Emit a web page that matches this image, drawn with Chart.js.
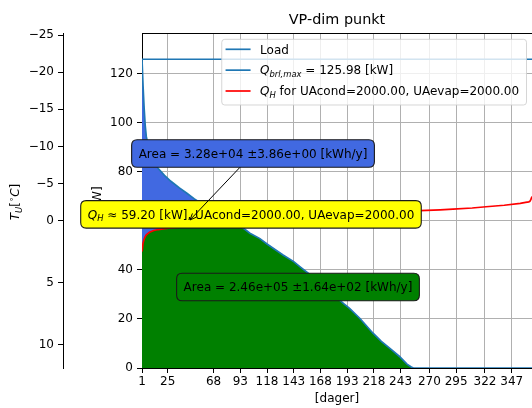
<!DOCTYPE html>
<html><head><meta charset="utf-8">
<script src="https://cdn.jsdelivr.net/npm/chart.js@4.4.0/dist/chart.umd.min.js"></script>
<style>html,body{margin:0;padding:0;background:#fff;overflow:hidden}#wrap{width:532px;height:408px;position:relative}</style>
</head><body><div id="wrap"><canvas id="c" width="532" height="408"></canvas></div>
<script>
// ---- data ----
const days  = [1, 2, 3, 4, 5, 8, 12, 16, 22, 28, 36, 43, 50, 60, 70, 80, 90, 96, 102, 111, 118, 133, 143, 149, 158, 170, 180, 190, 195, 205, 217, 225, 235, 242, 249, 253, 255, 261, 280, 292, 310, 323, 340, 355, 360, 363, 364, 365, 366];
const load  = [125.98, 115, 106, 99, 94.5, 88, 84.2, 81.5, 78.6, 76.2, 73.5, 71.3, 69.0, 66.2, 63.5, 61.0, 58.6, 57.0, 55.0, 52.9, 50.6, 46.1, 43.4, 41.3, 38.2, 33.6, 29.9, 26.2, 24.4, 20.2, 14.3, 10.9, 7.3, 4.7, 1.6, 0.4, 0, 0, 0, 0, 0, 0, 0, 0, 0, 0, 0, 0, 0];
const qH    = [47.5, 51.0, 52.6, 53.6, 54.3, 55.4, 56.1, 56.5, 56.9, 57.2, 57.5, 57.8, 58.1, 58.5, 58.8, 59.1, 59.4, 59.6, 59.8, 60.1, 60.3, 60.8, 61.1, 61.3, 61.6, 62.0, 62.3, 62.6, 62.7, 63.0, 63.3, 63.5, 63.7, 63.9, 64.0, 64.0, 64.1, 64.2, 64.5, 64.8, 65.3, 65.8, 66.4, 67.2, 67.6, 67.8, 68.0, 68.8, 70.0];
const qBrlMax = 125.98;
const xTicks = [1, 25, 68, 93, 118, 143, 168, 193, 218, 243, 270, 295, 322, 347];
const yTicks = [0, 20, 40, 60, 80, 100, 120];
const tempTicks = [-25, -20, -15, -10, -5, 0, 5, 10];
// outdoor temperature -> load position on the shared kW axis (piecewise)
const tempAxisQ0 = 60.1, tempSlopeCold = 3.03, tempSlopeWarm = 5.06;
function loadOfTemp(t){ return t <= 0 ? tempAxisQ0 - tempSlopeCold*t : tempAxisQ0 - tempSlopeWarm*t; }

const titleText = 'VP-dim punkt';
const xLabel = '[dager]';
const yLabel = '[kW]';
const uaText = 'UAcond=2000.00, UAevap=2000.00';
const qHdim = '59.20';
const areaBlueText = 'Area = 3.28e+04 \u00b13.86e+00 [kWh/y]';
const areaGreenText = 'Area = 2.46e+05 \u00b11.64e+02 [kWh/y]';
// annotation anchor points (data coords: day, kW)
const blueBoxAt = [104.9, 87.5];
const yellowBoxAt = [103.0, 62.7];
const greenBoxAt = [147.0, 33.05];
const arrowTo = [45.9, 60.4];

const FF = '"DejaVu Sans", sans-serif';
const FS = 12;
const pts = arr => days.map((d, i) => ({x: d, y: arr[i]}));

function segW(ctx, s, size){
  const sz = s.s ? size*0.7 : size;
  ctx.font = (s.i ? 'italic ' : '') + sz + 'px ' + FF;
  return ctx.measureText(s.t).width;
}
function richWidth(ctx, segs, size){ return segs.reduce((a, s) => a + segW(ctx, s, size), 0); }
function drawRich(ctx, segs, x, y, size, align, color){
  const w = richWidth(ctx, segs, size);
  let cx = align === 'center' ? x - w/2 : (align === 'right' ? x - w : x);
  const base = y + 0.36*size;
  ctx.fillStyle = color || '#000';
  ctx.textBaseline = 'alphabetic'; ctx.textAlign = 'left';
  for (const s of segs){
    const sz = s.s ? size*0.7 : size;
    ctx.font = (s.i ? 'italic ' : '') + sz + 'px ' + FF;
    let dy = 0;
    if (s.s === 'sub') dy = 0.22*size;
    if (s.s === 'sup') dy = -0.42*size;
    ctx.fillText(s.t, cx, base + dy);
    cx += ctx.measureText(s.t).width;
  }
  return w;
}
function rrect(ctx, x, y, w, h, r){
  ctx.beginPath();
  ctx.moveTo(x+r, y); ctx.lineTo(x+w-r, y); ctx.quadraticCurveTo(x+w, y, x+w, y+r);
  ctx.lineTo(x+w, y+h-r); ctx.quadraticCurveTo(x+w, y+h, x+w-r, y+h);
  ctx.lineTo(x+r, y+h); ctx.quadraticCurveTo(x, y+h, x, y+h-r);
  ctx.lineTo(x, y+r); ctx.quadraticCurveTo(x, y, x+r, y); ctx.closePath();
}
function textBox(ctx, segs, cx, cy, fill){
  const w = richWidth(ctx, segs, FS) + 14, h = 27.5;
  const x = cx - w/2, y = cy - h/2;
  rrect(ctx, x, y, w, h, 5.5);
  ctx.fillStyle = fill; ctx.fill();
  ctx.lineWidth = 1.1; ctx.strokeStyle = '#1a1a1a'; ctx.stroke();
  drawRich(ctx, segs, cx, cy, FS, 'center', '#000');
  return {x, y, w, h};
}

const deco = {
  id: 'deco',
  afterDraw(chart){
    const ctx = chart.ctx, a = chart.chartArea, xs = chart.scales.x, ys = chart.scales.y;
    ctx.save();
    // top spine
    ctx.strokeStyle = '#000'; ctx.lineWidth = 1;
    ctx.beginPath(); ctx.moveTo(a.left, Math.round(a.top)+0.5); ctx.lineTo(a.right, Math.round(a.top)+0.5); ctx.stroke();
    // title and axis labels
    ctx.fillStyle = '#000'; ctx.textAlign = 'center'; ctx.textBaseline = 'middle';
    ctx.font = '14.4px ' + FF;
    ctx.fillText(titleText, (a.left + a.right)/2, 20);
    ctx.font = FS + 'px ' + FF;
    ctx.fillText(xLabel, (a.left + a.right)/2, 399);
    ctx.save(); ctx.translate(98, (a.top + a.bottom)/2); ctx.rotate(-Math.PI/2);
    ctx.fillText(yLabel, 0, 0); ctx.restore();
    ctx.save(); ctx.translate(15, (a.top + a.bottom)/2 + 1.5); ctx.rotate(-Math.PI/2);
    drawRich(ctx, [{t:'T', i:1}, {t:'U', i:1, s:'sub'}, {t:'['}, {t:'\u2218', s:'sup'}, {t:'C', i:1}, {t:']'}], 0, 0, FS, 'center');
    ctx.restore();

    // annotation boxes
    textBox(ctx, [{t:'Q', i:1}, {t:'H', i:1, s:'sub'}, {t:' \u2248 ' + qHdim + ' [kW], ' + uaText}],
      xs.getPixelForValue(yellowBoxAt[0]), ys.getPixelForValue(yellowBoxAt[1]), '#ffff00');
    textBox(ctx, [{t: areaGreenText}], xs.getPixelForValue(greenBoxAt[0]), ys.getPixelForValue(greenBoxAt[1]), '#008000');
    const bcx = xs.getPixelForValue(blueBoxAt[0]), bcy = ys.getPixelForValue(blueBoxAt[1]);
    const bb = textBox(ctx, [{t: areaBlueText}], bcx, bcy, '#4169e1');
    // arrow from blue box to point
    const tx = xs.getPixelForValue(arrowTo[0]), ty = ys.getPixelForValue(arrowTo[1]);
    const dx = tx - bcx, dy = ty - bcy;
    const tEdge = Math.min(Math.abs((bb.h/2)/dy), Math.abs((bb.w/2)/dx));
    const sx = bcx + dx*tEdge, sy = bcy + dy*tEdge;
    ctx.strokeStyle = '#000'; ctx.lineWidth = 1;
    ctx.beginPath(); ctx.moveTo(sx, sy); ctx.lineTo(tx, ty); ctx.stroke();
    const ang = Math.atan2(ty - sy, tx - sx), hl = 7;
    ctx.beginPath();
    ctx.moveTo(tx - hl*Math.cos(ang - 0.4), ty - hl*Math.sin(ang - 0.4));
    ctx.lineTo(tx, ty);
    ctx.lineTo(tx - hl*Math.cos(ang + 0.4), ty - hl*Math.sin(ang + 0.4));
    ctx.stroke();

    // legend
    const items = [
      {c:'#1f77b4', segs:[{t:'Load'}]},
      {c:'#1f77b4', segs:[{t:'Q', i:1}, {t:'brl,max', i:1, s:'sub'}, {t:' = ' + qBrlMax.toFixed(2) + ' [kW]'}]},
      {c:'#ff0000', segs:[{t:'Q', i:1}, {t:'H', i:1, s:'sub'}, {t:' for ' + uaText}]}
    ];
    const tw = Math.max(...items.map(it => richWidth(ctx, it.segs, FS)));
    const lr = a.right - 5.5, lt = a.top + 6.3;
    const lw = tw + 38.3 + 7.4, lh = 65.7;
    const ll = lr - lw;
    rrect(ctx, ll, lt, lw, lh, 3);
    ctx.fillStyle = 'rgba(255,255,255,0.8)'; ctx.fill();
    ctx.strokeStyle = 'rgba(204,204,204,0.8)'; ctx.lineWidth = 1; ctx.stroke();
    items.forEach((it, k) => {
      const yy = lt + 10 + k*20.85;
      ctx.strokeStyle = it.c; ctx.lineWidth = 1.7;
      ctx.beginPath(); ctx.moveTo(ll + 3.8, yy); ctx.lineTo(ll + 28.8, yy); ctx.stroke();
      drawRich(ctx, it.segs, ll + 38.3, yy, FS, 'left', '#000');
    });
    ctx.restore();
  }
};

const tickFont = {family: FF, size: FS};
new Chart(document.getElementById('c'), {
  type: 'line',
  data: {
    datasets: [
      {data: [{x: 1, y: qBrlMax}, {x: 366, y: qBrlMax}], borderColor: '#1f77b4', borderWidth: 1.7, pointRadius: 0, fill: false, order: 0},
      {data: pts(qH), borderColor: '#ff0000', borderWidth: 1.7, pointRadius: 0, fill: false, order: 1},
      {data: pts(load), borderColor: '#1f77b4', borderWidth: 1.7, pointRadius: 0,
        fill: {target: 1, above: '#4169e1', below: 'rgba(0,0,0,0)'}, order: 2},
      {data: pts(load), borderColor: 'rgba(0,0,0,0)', borderWidth: 0, pointRadius: 0,
        fill: {target: 'origin', above: '#008000', below: '#008000'}, order: 3}
    ]
  },
  options: {
    responsive: false, animation: false, devicePixelRatio: 1,
    layout: {padding: {top: 33, right: 0, bottom: 0, left: 0}},
    plugins: {legend: {display: false}, title: {display: false}, tooltip: {enabled: false}},
    elements: {line: {tension: 0}},
    scales: {
      x: {type: 'linear', position: 'bottom', min: 1, max: 366,
        afterBuildTicks: s => { s.ticks = xTicks.map(v => ({value: v})); },
        afterFit: s => { s.height = 40; },
        ticks: {autoSkip: false, maxRotation: 0, minRotation: 0, font: tickFont, color: '#000', padding: 2, callback: v => String(v)},
        grid: {color: '#b0b0b0', lineWidth: 1, tickColor: '#000', tickLength: 5, drawTicks: true},
        border: {color: '#000', width: 1}},
      y: {type: 'linear', position: 'left', weight: 0, min: 0, max: 136.7,
        afterBuildTicks: s => { s.ticks = yTicks.map(v => ({value: v})); },
        afterFit: s => { s.width = 79; },
        ticks: {font: tickFont, color: '#000', padding: 4, callback: v => String(v)},
        grid: {color: '#b0b0b0', lineWidth: 1, tickColor: '#000', tickLength: 5},
        border: {color: '#000', width: 1}},
      yT: {type: 'linear', position: 'left', weight: 1, min: 0, max: 136.7,
        afterBuildTicks: s => { s.ticks = tempTicks.map(t => ({value: loadOfTemp(t)})); },
        afterFit: s => { s.width = 63; },
        ticks: {font: tickFont, color: '#000', padding: 4,
          callback: (v, i) => { const t = tempTicks[i]; return t < 0 ? '\u2212' + Math.abs(t) : String(t); }},
        grid: {drawOnChartArea: false, tickColor: '#000', tickLength: 5},
        border: {color: '#000', width: 1}}
    }
  },
  plugins: [deco]
});
</script></body></html>
